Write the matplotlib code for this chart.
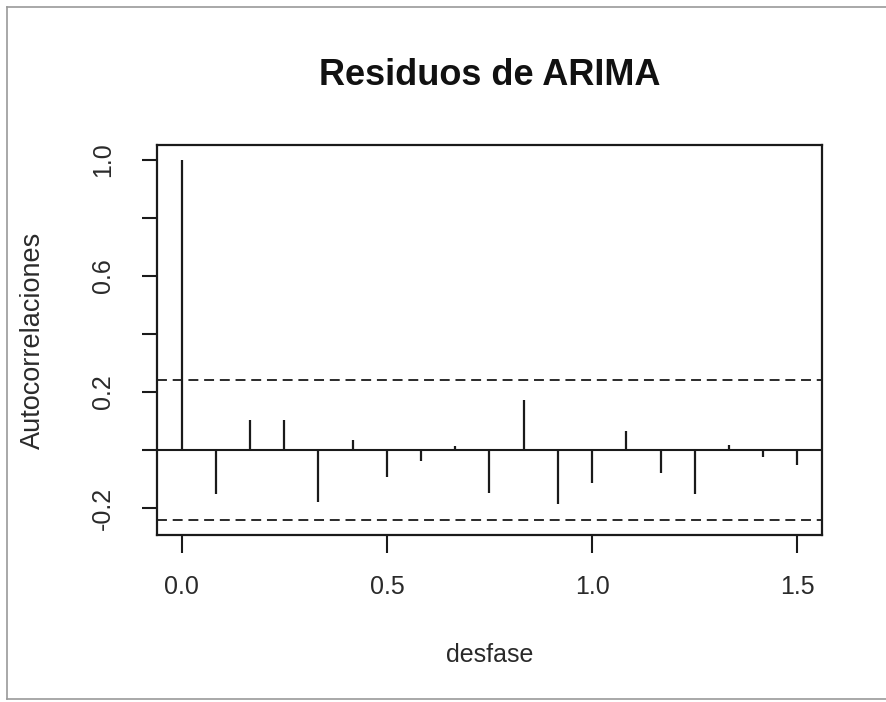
import matplotlib
matplotlib.use("Agg")
import matplotlib.pyplot as plt
from matplotlib.lines import Line2D

# ACF of the ARIMA residuals (monthly series, lag in years)
LAG_MONTHS = [0, 1, 2, 3, 4, 5, 6, 7, 8, 9, 10, 11, 12, 13, 14, 15, 16, 17, 18]
FREQ = 12
ACF = [1.0, -0.15, 0.104, 0.104, -0.177, 0.036, -0.092, -0.037, 0.015, -0.146,
       0.173, -0.184, -0.112, 0.065, -0.079, -0.15, 0.017, -0.025, -0.05]
CI = 0.24
XTICKS = [0.0, 0.5, 1.0, 1.5]
XTICKLABELS = ["0.0", "0.5", "1.0", "1.5"]
YTICKS = [-0.2, 0.0, 0.2, 0.4, 0.6, 0.8, 1.0]
YTICKLABELS = ["-0.2", "", "0.2", "", "0.6", "", "1.0"]

INK = "#1a1a1a"
TXT = "#2a2a2a"
plt.rcParams["font.family"] = ["Liberation Sans", "DejaVu Sans"]

fig = plt.figure(figsize=(8.87, 7.02), dpi=100)
ax = fig.add_axes([157 / 887, 1 - 535 / 702, 665 / 887, 390 / 702])

lags = [m / FREQ for m in LAG_MONTHS]
ax.vlines(lags, 0, ACF, color=INK, lw=1.6)
ax.axhline(0, color=INK, lw=1.5)
for c in (CI, -CI):
    ax.axhline(c, color=INK, lw=1.3, linestyle=(0, (5.5, 3.2)))

ax.set_xlim(-0.06, 1.56)
ax.set_ylim(-0.292, 1.05)
ax.set_xticks(XTICKS)
ax.set_xticklabels(XTICKLABELS)
ax.set_yticks(YTICKS)
ax.set_yticklabels(YTICKLABELS, rotation=90, va="center")
ax.tick_params(axis="x", length=13, width=1.5, pad=16, labelsize=18,
               color=INK, labelcolor=TXT)
ax.tick_params(axis="y", length=11, width=1.5, pad=19, labelsize=18,
               color=INK, labelcolor=TXT)
for s in ax.spines.values():
    s.set_linewidth(1.6)
    s.set_color(INK)

ax.set_xlabel("desfase", fontsize=18, color=TXT)
ax.xaxis.set_label_coords(0.5, -0.308)
ax.xaxis.label.set_va("center")
ax.set_ylabel("Autocorrelaciones", fontsize=19.5, color=TXT)
ax.yaxis.set_label_coords(-0.186, 0.5)
ax.yaxis.label.set_va("center")

ax.set_title("Residuos de ARIMA", fontsize=26, fontweight="bold", color="#111111",
             y=1.179, va="center", pad=0)

# outer frame of the plot region
frame_kw = dict(color="#9a9a9a", lw=1.2, transform=fig.transFigure)
fig.add_artist(Line2D([7 / 887, 7 / 887], [1 - 7 / 702, 1 - 699 / 702], **frame_kw))
fig.add_artist(Line2D([7 / 887, 1.0], [1 - 7 / 702, 1 - 7 / 702], **frame_kw))
fig.add_artist(Line2D([7 / 887, 1.0], [1 - 699 / 702, 1 - 699 / 702], **frame_kw))

fig.savefig("out.png", dpi=100)
